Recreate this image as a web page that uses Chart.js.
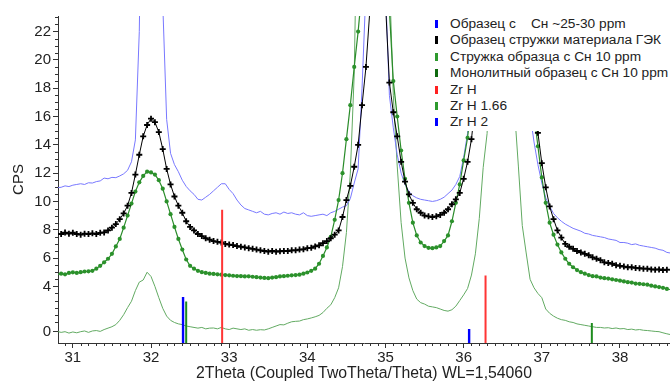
<!DOCTYPE html>
<html><head><meta charset="utf-8">
<script src="https://cdn.jsdelivr.net/npm/chart.js@4.4.1/dist/chart.umd.min.js"></script>
<style>
html,body{margin:0;padding:0;background:#fff;}
#wrap{position:relative;width:670px;height:383px;overflow:hidden;}
#legend{position:absolute;left:430px;top:14px;width:240px;height:117px;background:#fff;font-family:"Liberation Sans",Arial,sans-serif;font-size:13.7px;color:#222;}
.row{position:absolute;left:0;height:16px;line-height:16px;white-space:pre;}
.bar{position:absolute;left:5px;top:4px;width:3px;height:8px;}
.txt{position:absolute;left:20px;top:0;white-space:pre;}
</style></head><body>
<div id="wrap"><canvas id="c" width="670" height="383"></canvas><div id="legend"></div></div>
<script>
// ---- data ----
const xValues = [30.80,30.85,30.90,30.95,31.00,31.05,31.10,31.15,31.20,31.25,
31.30,31.35,31.40,31.45,31.50,31.55,31.60,31.65,31.70,31.75,
31.80,31.85,31.90,31.95,32.00,32.05,32.10,32.15,32.20,32.25,
32.30,32.35,32.40,32.45,32.50,32.55,32.60,32.65,32.70,32.75,
32.80,32.85,32.90,32.95,33.00,33.05,33.10,33.15,33.20,33.25,
33.30,33.35,33.40,33.45,33.50,33.55,33.60,33.65,33.70,33.75,
33.80,33.85,33.90,33.95,34.00,34.05,34.10,34.15,34.20,34.25,
34.30,34.35,34.40,34.45,34.50,34.55,34.60,34.65,34.70,34.75,
34.80,34.85,34.90,34.95,35.00,35.05,35.10,35.15,35.20,35.25,
35.30,35.35,35.40,35.45,35.50,35.55,35.60,35.65,35.70,35.75,
35.80,35.85,35.90,35.95,36.00,36.05,36.10,36.15,36.20,36.25,
36.30,36.35,36.40,36.45,36.50,36.55,36.60,36.65,36.70,36.75,
36.80,36.85,36.90,36.95,37.00,37.05,37.10,37.15,37.20,37.25,
37.30,37.35,37.40,37.45,37.50,37.55,37.60,37.65,37.70,37.75,
37.80,37.85,37.90,37.95,38.00,38.05,38.10,38.15,38.20,38.25,
38.30,38.35,38.40,38.45,38.50,38.55,38.60,38.65];

const blueVals = [10.97,11.0,11.1,11.05,11.15,11.2,11.25,11.2,11.32,11.3,
11.4,11.45,11.65,11.6,11.7,11.68,11.8,11.95,12.2,12.8,
14.35,22,40,55,60,52,38,24,15.8,13.4,
12.6,12.1,11.5,11.06,10.75,10.5,10.15,10.1,10.3,10.5,
10.75,11.0,11.25,11.25,10.85,10.55,10.1,9.75,9.5,9.4,
9.3,9.2,9.3,9.1,9.05,9.15,9.2,9.1,9.25,9.15,
9.2,9.1,9.05,9.2,9.0,8.95,9.0,9.05,9.1,9.0,
9.2,9.3,9.45,9.6,9.7,10.2,11.3,12.3,18,25,
45,70,85,90,25,17.5,15.2,13.3,12.0,11.2,
10.7,10.4,10.25,10.15,10.1,10.05,10.0,10.05,10.15,10.3,
10.55,10.8,11.2,11.76,13.1,14.8,17.5,22,35,50,
65,75,80,85,80,70,55,40,30,24,
18.5,16.2,14.2,12.6,11.3,10.25,9.65,9.15,8.85,8.6,
8.4,8.25,8.1,8.0,7.9,7.75,7.7,7.6,7.55,7.5,
7.45,7.35,7.3,7.25,7.1,7.1,7.05,6.95,7.0,6.9,
6.85,6.8,6.75,6.7,6.6,6.55,6.4,6.35];

const blackVals = [7.77,7.7,7.8,7.72,7.79,7.7,7.65,7.72,7.7,7.75,
7.7,7.78,7.81,7.95,8.15,8.4,8.75,9.15,9.7,10.6,
11.9,13.3,14.6,15.4,15.85,15.6,14.9,13.7,12.3,11.2,
10.35,9.7,9.2,8.6,8.2,7.95,7.7,7.55,7.4,7.3,
7.2,7.15,7.1,7.0,6.95,6.92,6.85,6.8,6.75,6.7,
6.65,6.6,6.55,6.5,6.45,6.5,6.45,6.48,6.5,6.5,
6.55,6.55,6.6,6.62,6.7,6.72,6.82,6.9,7.05,7.2,
7.4,7.65,7.95,8.9,10.1,11.1,12.45,14.0,16.8,19.5,
23.5,50,80,90,24,18.4,16.3,14.6,12.8,11.4,
10.5,9.9,9.45,9.2,9.0,8.95,8.9,8.95,9.05,9.2,
9.45,9.8,10.15,10.6,11.6,12.8,14.4,17,22,35,
55,70,80,85,80,70,55,40,30,24,
20,17.5,16.5,14.85,12.7,11.0,9.65,8.75,7.95,7.45,
7.0,6.8,6.65,6.5,6.4,6.3,6.2,6.05,5.95,5.85,
5.7,5.65,5.6,5.5,5.45,5.4,5.35,5.35,5.3,5.28,
5.25,5.25,5.2,5.18,5.2,5.15,5.18,5.15];

const greenVals = [4.83,4.9,4.85,4.95,4.99,4.95,5.0,5.05,5.06,5.1,
5.25,5.45,5.7,5.95,6.3,6.82,7.35,8.15,9.0,9.85,
10.7,11.35,11.8,12.1,12.05,11.9,11.5,10.9,10.0,9.1,
8.2,7.35,6.6,5.9,5.45,5.25,5.1,5.0,4.95,4.9,
4.88,4.85,4.83,4.8,4.78,4.75,4.73,4.72,4.7,4.71,
4.68,4.65,4.62,4.6,4.58,4.62,4.65,4.7,4.72,4.75,
4.78,4.8,4.83,4.9,4.98,5.1,5.25,5.6,6.15,6.75,
7.5,8.7,10.1,12.0,14.4,16.8,19.5,22,25,40,
60,80,95,90,60,23.5,18.5,16.0,13.6,11.6,
9.9,8.5,7.6,7.1,6.85,6.72,6.7,6.75,6.85,7.2,
7.6,8.6,9.9,11.2,12.9,14.5,17,22,35,55,
70,85,90,85,80,70,55,40,30,24,
20,17.5,16.2,13.9,11.7,9.9,8.5,7.65,6.95,6.4,
5.95,5.6,5.35,5.15,5.0,4.9,4.8,4.72,4.7,4.62,
4.58,4.55,4.5,4.45,4.4,4.35,4.3,4.27,4.2,4.18,
4.15,4.12,4.05,4.0,3.95,3.9,3.82,3.77];

const monoVals = [0.82,0.75,0.8,0.7,0.78,0.72,0.8,0.85,0.75,0.85,
0.88,0.82,0.95,1.05,1.15,1.3,1.6,2.0,2.5,2.95,
3.7,4.3,4.45,5.0,4.7,4.0,3.2,2.45,1.9,1.6,
1.45,1.35,1.3,1.2,1.15,1.1,1.05,1.1,1.0,1.05,
1.06,1.0,1.1,1.0,0.95,1.05,1.0,0.95,1.0,0.9,
0.95,0.9,0.94,0.92,1.0,1.1,1.2,1.3,1.28,1.4,
1.5,1.53,1.55,1.65,1.7,1.77,1.85,1.95,2.15,2.45,
2.7,3.2,3.9,5.4,7.8,12.0,19,35,60,90,
100,110,120,115,100,26,17.5,12.5,8.5,6.0,
4.6,3.7,3.1,2.85,2.75,2.6,2.55,2.5,2.4,2.3,
2.25,2.35,2.6,3.0,3.4,3.85,4.8,6.3,8.8,12.4,
14.8,22,60,90,100,90,60,16.5,12.5,8.3,
6.36,4.5,3.9,3.5,3.2,2.4,2.1,1.9,1.75,1.65,
1.6,1.5,1.45,1.35,1.3,1.25,1.2,1.15,1.1,1.1,
1.06,1.08,1.02,1.06,1.0,1.02,0.95,0.98,0.92,0.95,
0.9,0.88,0.85,0.82,0.8,0.72,0.65,0.59];

// reference phase sticks (position, height)
const zrhPos = [32.91, 36.28];
const zrhHeights = [9.41, 4.76];
const zrh166Pos = [32.45, 37.64];
const zrh166Heights = [2.94, 1.42];
const zrh2Pos = [32.41, 36.07];
const zrh2Heights = [3.25, 0.99];

const xTickValues = [31,32,33,34,35,36,37,38];
const xTickLabels = ['31','32','33','34','35','36','37','38'];
const yTickValues = [0.82,4,6,8,10,12,14,16,18,20,22];
const yTickLabels = ['0','4','6','8','10','12','14','16','18','20','22'];

const legendItems = [
  ['#0000ff','Образец с    Сн ~25-30 ppm'],
  ['#000000','Образец стружки материала ГЭК'],
  ['#2e9a2e','Стружка образца с Сн 10 ppm'],
  ['#0f6a0f','Монолитный образец с Сн 10 ppm'],
  ['#ff2020','Zr H'],
  ['#2e9a2e','Zr H 1.66'],
  ['#0000ff','Zr H 2']
];

// ---- build ----
function series(vals){ return xValues.map((x,i)=>({x:x, y:vals[i]})); }
function sticks(pos, h){ const d=[]; pos.forEach((p,i)=>{ d.push({x:p,y:0},{x:p,y:h[i]},{x:p,y:null}); }); return d; }
const lastIdx = xValues.length - 1;
function radiusFn(r){ return c => (c.dataIndex===0 || c.dataIndex===lastIdx) ? 0 : r; }

const lg = document.getElementById('legend');
legendItems.forEach((it,i)=>{
  const r = document.createElement('div');
  r.className='row'; r.style.top=(2+i*16.4)+'px';
  r.innerHTML='<span class="bar" style="background:'+it[0]+'"></span><span class="txt"></span>';
  r.querySelector('.txt').textContent=it[1];
  lg.appendChild(r);
});

const minorTicks = {
  id:'minorTicks',
  afterDraw(chart){
    const c=chart.ctx, xs=chart.scales.x, ys=chart.scales.y, a=chart.chartArea;
    c.save(); c.strokeStyle='#333'; c.lineWidth=1; c.beginPath();
    for(let k=309;k<=386;k++){
      if(k%10===0) continue;
      const px=Math.round(xs.getPixelForValue(k/10))+0.5;
      c.moveTo(px,a.bottom); c.lineTo(px,a.bottom+3);
    }
    for(let k=3;k<=46;k++){
      if(k%4===0 && k>=8) continue;
      const py=Math.round(ys.getPixelForValue(k/2))+0.5;
      c.moveTo(a.left,py); c.lineTo(a.left-3,py);
    }
    c.stroke(); c.restore();
  }
};

const FONT = "'Liberation Sans', Arial, sans-serif";
new Chart(document.getElementById('c'), {
  type:'line',
  data:{datasets:[
    {label:'Zr H', data:sticks(zrhPos,zrhHeights), borderColor:'#ff3535', borderWidth:2, pointRadius:0, pointHoverRadius:0, order:0},
    {label:'Zr H 1.66', data:sticks(zrh166Pos,zrh166Heights), borderColor:'#1e8c1e', borderWidth:2, pointRadius:0, pointHoverRadius:0, order:0},
    {label:'Zr H 2', data:sticks(zrh2Pos,zrh2Heights), borderColor:'#0000ff', borderWidth:2.4, pointRadius:0, pointHoverRadius:0, order:0},
    {label:'Образец стружки материала ГЭК', data:series(blackVals), borderColor:'#000', borderWidth:1,
      pointStyle:'cross', pointRadius:radiusFn(3), pointHoverRadius:radiusFn(3), pointBorderWidth:1.8, pointBorderColor:'#000', order:1},
    {label:'Стружка образца с Сн 10 ppm', data:series(greenVals), borderColor:'#2a8c2a', borderWidth:1.2,
      pointStyle:'circle', pointRadius:radiusFn(2.1), pointHoverRadius:radiusFn(2.1), pointBorderWidth:0, pointBackgroundColor:'#2b912b', order:2},
    {label:'Образец с Сн ~25-30 ppm', data:series(blueVals), borderColor:'#7878ff', borderWidth:1, pointRadius:0, pointHoverRadius:0, order:3},
    {label:'Монолитный образец с Сн 10 ppm', data:series(monoVals), borderColor:'#62aa62', borderWidth:1, pointRadius:0, pointHoverRadius:0, order:4}
  ]},
  options:{
    responsive:false, animation:false, devicePixelRatio:1,
    layout:{padding:{top:16,left:0,right:0,bottom:0}},
    plugins:{legend:{display:false}, tooltip:{enabled:false}},
    elements:{line:{tension:0}},
    scales:{
      x:{type:'linear', min:30.81, max:38.64,
        afterBuildTicks:s=>{ s.ticks=xTickValues.map(v=>({value:v})); },
        afterFit:s=>{ s.height=40; },
        grid:{display:true, drawOnChartArea:false, drawTicks:true, tickLength:5, color:'#333'},
        border:{display:true, color:'#333'},
        ticks:{callback:(v,i)=>xTickLabels[i], font:{family:FONT,size:15}, color:'#222', padding:1, maxRotation:0, autoSkip:false},
        title:{display:true, text:'2Theta (Coupled TwoTheta/Theta) WL=1,54060', font:{family:FONT,size:15.8}, color:'#222', padding:{top:0,bottom:0}}
      },
      y:{type:'linear', min:0, max:23.1,
        afterBuildTicks:s=>{ s.ticks=yTickValues.map(v=>({value:v})); },
        afterFit:s=>{ s.width=58; },
        grid:{display:true, drawOnChartArea:false, drawTicks:true, tickLength:5, color:'#333'},
        border:{display:true, color:'#333'},
        ticks:{callback:(v,i)=>yTickLabels[i], font:{family:FONT,size:15}, color:'#222', padding:2, autoSkip:false},
        title:{display:true, text:'CPS', font:{family:FONT,size:15}, color:'#222', padding:{top:10,bottom:0}}
      }
    }
  },
  plugins:[minorTicks]
});
</script>
</body></html>
